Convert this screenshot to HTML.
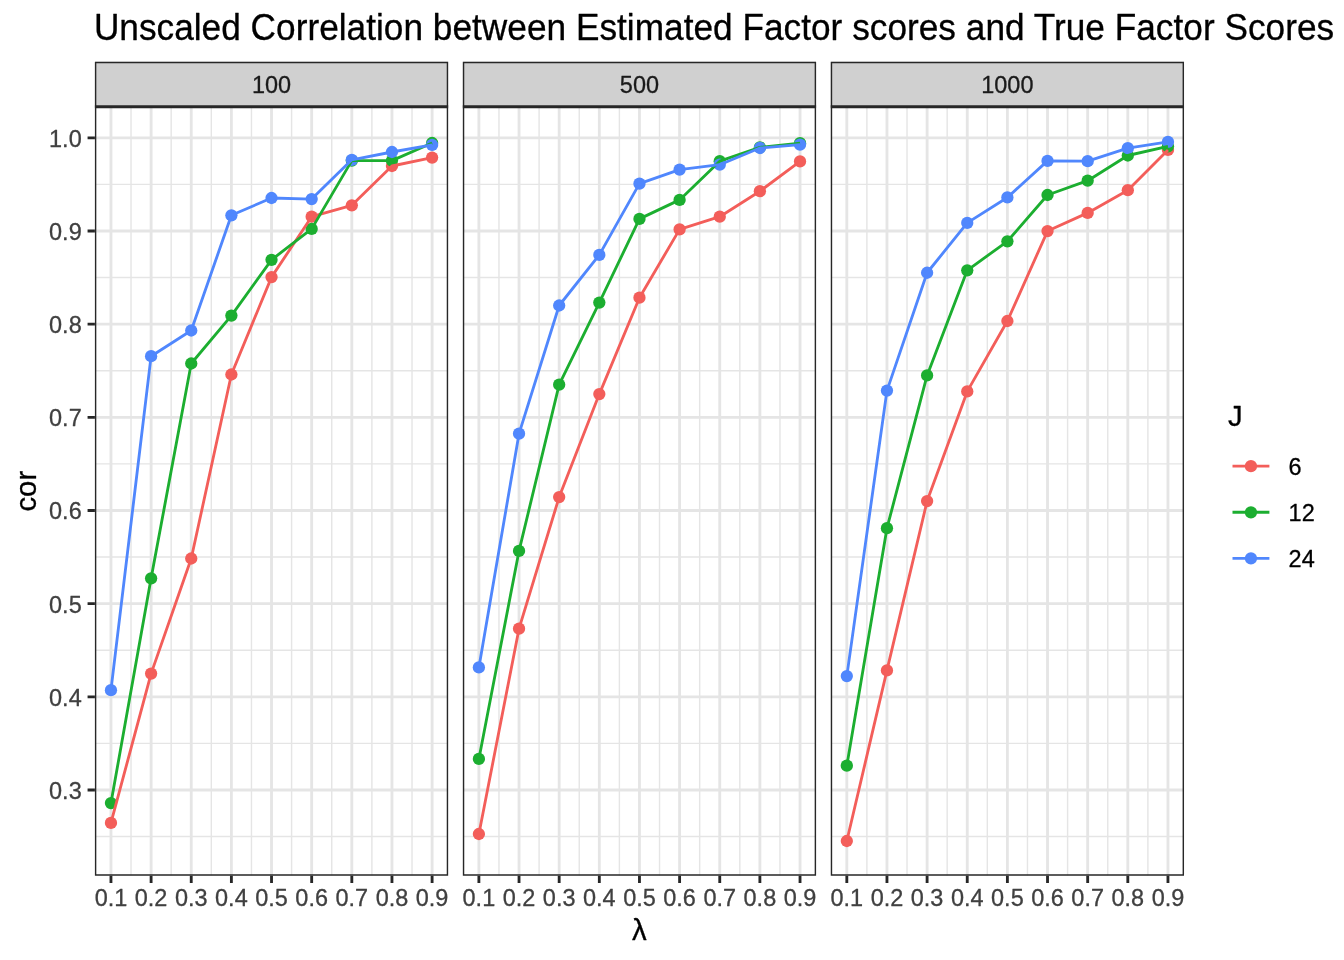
<!DOCTYPE html>
<html lang="en"><head><meta charset="utf-8"><title>Unscaled Correlation between Estimated Factor scores and True Factor Scores</title>
<style>html,body{margin:0;padding:0;background:#fff}svg{display:block}text{stroke-width:.3px;stroke-linejoin:round}.k{stroke:#000}.a{stroke:#404040}.s{stroke:#1A1A1A}</style></head>
<body>
<svg width="1344" height="960" viewBox="0 0 1344 960" font-family="Liberation Sans, Arial, Helvetica, sans-serif">
<rect width="1344" height="960" fill="#fff"/>
<defs>
<clipPath id="c0"><rect x="94.90" y="106.74" width="353.26" height="768.96"/></clipPath>
<clipPath id="s0"><rect x="94.90" y="61.80" width="353.26" height="44.94"/></clipPath>
<clipPath id="c1"><rect x="462.83" y="106.74" width="353.26" height="768.96"/></clipPath>
<clipPath id="s1"><rect x="462.83" y="61.80" width="353.26" height="44.94"/></clipPath>
<clipPath id="c2"><rect x="830.76" y="106.74" width="353.26" height="768.96"/></clipPath>
<clipPath id="s2"><rect x="830.76" y="61.80" width="353.26" height="44.94"/></clipPath>
</defs>
<text transform="translate(93.9 40) scale(1 1.03)" class="k" font-size="35.2" fill="#000" textLength="1240.2" lengthAdjust="spacing">Unscaled Correlation between Estimated Factor scores and True Factor Scores</text>
<g clip-path="url(#c0)">
<path d="M94.90 836.58H448.16M94.90 743.40H448.16M94.90 650.24H448.16M94.90 557.07H448.16M94.90 463.89H448.16M94.90 370.73H448.16M94.90 277.56H448.16M94.90 184.39H448.16M131.03 106.74V875.70M171.17 106.74V875.70M211.32 106.74V875.70M251.46 106.74V875.70M291.60 106.74V875.70M331.74 106.74V875.70M371.89 106.74V875.70M412.03 106.74V875.70" stroke="#E5E5E5" stroke-width="1.42" fill="none"/>
<path d="M94.90 789.99H448.16M94.90 696.82H448.16M94.90 603.65H448.16M94.90 510.48H448.16M94.90 417.31H448.16M94.90 324.14H448.16M94.90 230.97H448.16M94.90 137.80H448.16M110.96 106.74V875.70M151.10 106.74V875.70M191.24 106.74V875.70M231.39 106.74V875.70M271.53 106.74V875.70M311.67 106.74V875.70M351.82 106.74V875.70M391.96 106.74V875.70M432.10 106.74V875.70" stroke="#E5E5E5" stroke-width="2.84" fill="none"/>
<circle cx="110.96" cy="822.90" r="6.15" fill="#F35E5A"/>
<circle cx="151.10" cy="673.60" r="6.15" fill="#F35E5A"/>
<circle cx="191.24" cy="558.50" r="6.15" fill="#F35E5A"/>
<circle cx="231.39" cy="374.50" r="6.15" fill="#F35E5A"/>
<circle cx="271.53" cy="277.10" r="6.15" fill="#F35E5A"/>
<circle cx="311.67" cy="216.70" r="6.15" fill="#F35E5A"/>
<circle cx="351.82" cy="205.30" r="6.15" fill="#F35E5A"/>
<circle cx="391.96" cy="166.00" r="6.15" fill="#F35E5A"/>
<circle cx="432.10" cy="157.60" r="6.15" fill="#F35E5A"/>
<circle cx="110.96" cy="803.10" r="6.15" fill="#1CAE30"/>
<circle cx="151.10" cy="578.30" r="6.15" fill="#1CAE30"/>
<circle cx="191.24" cy="363.50" r="6.15" fill="#1CAE30"/>
<circle cx="231.39" cy="315.60" r="6.15" fill="#1CAE30"/>
<circle cx="271.53" cy="259.80" r="6.15" fill="#1CAE30"/>
<circle cx="311.67" cy="228.90" r="6.15" fill="#1CAE30"/>
<circle cx="351.82" cy="160.60" r="6.15" fill="#1CAE30"/>
<circle cx="391.96" cy="160.60" r="6.15" fill="#1CAE30"/>
<circle cx="432.10" cy="143.00" r="6.15" fill="#1CAE30"/>
<circle cx="110.96" cy="690.15" r="6.15" fill="#5087FD"/>
<circle cx="151.10" cy="356.20" r="6.15" fill="#5087FD"/>
<circle cx="191.24" cy="330.50" r="6.15" fill="#5087FD"/>
<circle cx="231.39" cy="215.30" r="6.15" fill="#5087FD"/>
<circle cx="271.53" cy="198.00" r="6.15" fill="#5087FD"/>
<circle cx="311.67" cy="199.10" r="6.15" fill="#5087FD"/>
<circle cx="351.82" cy="159.80" r="6.15" fill="#5087FD"/>
<circle cx="391.96" cy="152.00" r="6.15" fill="#5087FD"/>
<circle cx="432.10" cy="144.90" r="6.15" fill="#5087FD"/>
<polyline points="110.96,822.90 151.10,673.60 191.24,558.50 231.39,374.50 271.53,277.10 311.67,216.70 351.82,205.30 391.96,166.00 432.10,157.60" fill="none" stroke="#F35E5A" stroke-width="2.84" stroke-linejoin="round" stroke-linecap="butt"/>
<polyline points="110.96,803.10 151.10,578.30 191.24,363.50 231.39,315.60 271.53,259.80 311.67,228.90 351.82,160.60 391.96,160.60 432.10,143.00" fill="none" stroke="#1CAE30" stroke-width="2.84" stroke-linejoin="round" stroke-linecap="butt"/>
<polyline points="110.96,690.15 151.10,356.20 191.24,330.50 231.39,215.30 271.53,198.00 311.67,199.10 351.82,159.80 391.96,152.00 432.10,144.90" fill="none" stroke="#5087FD" stroke-width="2.84" stroke-linejoin="round" stroke-linecap="butt"/>
</g>
<rect x="94.90" y="61.80" width="353.26" height="44.94" fill="#D0D0D0"/>
<path d="M95.61 61.80V875.70M447.45 61.80V875.70M94.90 62.51H448.16M94.90 874.99H448.16" stroke="#272727" stroke-width="1.42" fill="none"/>
<path d="M94.90 106.74H448.16" stroke="#272727" stroke-width="2.84" fill="none"/>
<text x="271.53" y="92.7" class="s" font-size="23.47" fill="#1A1A1A" text-anchor="middle">100</text>
<path d="M110.96 875.70v7.33M151.10 875.70v7.33M191.24 875.70v7.33M231.39 875.70v7.33M271.53 875.70v7.33M311.67 875.70v7.33M351.82 875.70v7.33M391.96 875.70v7.33M432.10 875.70v7.33" stroke="#272727" stroke-width="2.84" fill="none"/>
<text x="110.96" y="906" class="a" font-size="23.47" fill="#404040" text-anchor="middle">0.1</text>
<text x="151.10" y="906" class="a" font-size="23.47" fill="#404040" text-anchor="middle">0.2</text>
<text x="191.24" y="906" class="a" font-size="23.47" fill="#404040" text-anchor="middle">0.3</text>
<text x="231.39" y="906" class="a" font-size="23.47" fill="#404040" text-anchor="middle">0.4</text>
<text x="271.53" y="906" class="a" font-size="23.47" fill="#404040" text-anchor="middle">0.5</text>
<text x="311.67" y="906" class="a" font-size="23.47" fill="#404040" text-anchor="middle">0.6</text>
<text x="351.82" y="906" class="a" font-size="23.47" fill="#404040" text-anchor="middle">0.7</text>
<text x="391.96" y="906" class="a" font-size="23.47" fill="#404040" text-anchor="middle">0.8</text>
<text x="432.10" y="906" class="a" font-size="23.47" fill="#404040" text-anchor="middle">0.9</text>
<g clip-path="url(#c1)">
<path d="M462.83 836.58H816.09M462.83 743.40H816.09M462.83 650.24H816.09M462.83 557.07H816.09M462.83 463.89H816.09M462.83 370.73H816.09M462.83 277.56H816.09M462.83 184.39H816.09M498.96 106.74V875.70M539.10 106.74V875.70M579.25 106.74V875.70M619.39 106.74V875.70M659.53 106.74V875.70M699.67 106.74V875.70M739.82 106.74V875.70M779.96 106.74V875.70" stroke="#E5E5E5" stroke-width="1.42" fill="none"/>
<path d="M462.83 789.99H816.09M462.83 696.82H816.09M462.83 603.65H816.09M462.83 510.48H816.09M462.83 417.31H816.09M462.83 324.14H816.09M462.83 230.97H816.09M462.83 137.80H816.09M478.89 106.74V875.70M519.03 106.74V875.70M559.17 106.74V875.70M599.32 106.74V875.70M639.46 106.74V875.70M679.60 106.74V875.70M719.75 106.74V875.70M759.89 106.74V875.70M800.03 106.74V875.70" stroke="#E5E5E5" stroke-width="2.84" fill="none"/>
<circle cx="478.89" cy="834.00" r="6.15" fill="#F35E5A"/>
<circle cx="519.03" cy="628.70" r="6.15" fill="#F35E5A"/>
<circle cx="559.17" cy="497.05" r="6.15" fill="#F35E5A"/>
<circle cx="599.32" cy="394.10" r="6.15" fill="#F35E5A"/>
<circle cx="639.46" cy="297.70" r="6.15" fill="#F35E5A"/>
<circle cx="679.60" cy="229.40" r="6.15" fill="#F35E5A"/>
<circle cx="719.75" cy="216.70" r="6.15" fill="#F35E5A"/>
<circle cx="759.89" cy="191.20" r="6.15" fill="#F35E5A"/>
<circle cx="800.03" cy="161.40" r="6.15" fill="#F35E5A"/>
<circle cx="478.89" cy="758.95" r="6.15" fill="#1CAE30"/>
<circle cx="519.03" cy="550.95" r="6.15" fill="#1CAE30"/>
<circle cx="559.17" cy="384.65" r="6.15" fill="#1CAE30"/>
<circle cx="599.32" cy="302.60" r="6.15" fill="#1CAE30"/>
<circle cx="639.46" cy="218.90" r="6.15" fill="#1CAE30"/>
<circle cx="679.60" cy="199.90" r="6.15" fill="#1CAE30"/>
<circle cx="719.75" cy="161.20" r="6.15" fill="#1CAE30"/>
<circle cx="759.89" cy="147.40" r="6.15" fill="#1CAE30"/>
<circle cx="800.03" cy="143.20" r="6.15" fill="#1CAE30"/>
<circle cx="478.89" cy="667.40" r="6.15" fill="#5087FD"/>
<circle cx="519.03" cy="433.70" r="6.15" fill="#5087FD"/>
<circle cx="559.17" cy="305.50" r="6.15" fill="#5087FD"/>
<circle cx="599.32" cy="254.90" r="6.15" fill="#5087FD"/>
<circle cx="639.46" cy="183.65" r="6.15" fill="#5087FD"/>
<circle cx="679.60" cy="169.60" r="6.15" fill="#5087FD"/>
<circle cx="719.75" cy="164.70" r="6.15" fill="#5087FD"/>
<circle cx="759.89" cy="148.00" r="6.15" fill="#5087FD"/>
<circle cx="800.03" cy="144.60" r="6.15" fill="#5087FD"/>
<polyline points="478.89,834.00 519.03,628.70 559.17,497.05 599.32,394.10 639.46,297.70 679.60,229.40 719.75,216.70 759.89,191.20 800.03,161.40" fill="none" stroke="#F35E5A" stroke-width="2.84" stroke-linejoin="round" stroke-linecap="butt"/>
<polyline points="478.89,758.95 519.03,550.95 559.17,384.65 599.32,302.60 639.46,218.90 679.60,199.90 719.75,161.20 759.89,147.40 800.03,143.20" fill="none" stroke="#1CAE30" stroke-width="2.84" stroke-linejoin="round" stroke-linecap="butt"/>
<polyline points="478.89,667.40 519.03,433.70 559.17,305.50 599.32,254.90 639.46,183.65 679.60,169.60 719.75,164.70 759.89,148.00 800.03,144.60" fill="none" stroke="#5087FD" stroke-width="2.84" stroke-linejoin="round" stroke-linecap="butt"/>
</g>
<rect x="462.83" y="61.80" width="353.26" height="44.94" fill="#D0D0D0"/>
<path d="M463.54 61.80V875.70M815.38 61.80V875.70M462.83 62.51H816.09M462.83 874.99H816.09" stroke="#272727" stroke-width="1.42" fill="none"/>
<path d="M462.83 106.74H816.09" stroke="#272727" stroke-width="2.84" fill="none"/>
<text x="639.46" y="92.7" class="s" font-size="23.47" fill="#1A1A1A" text-anchor="middle">500</text>
<path d="M478.89 875.70v7.33M519.03 875.70v7.33M559.17 875.70v7.33M599.32 875.70v7.33M639.46 875.70v7.33M679.60 875.70v7.33M719.75 875.70v7.33M759.89 875.70v7.33M800.03 875.70v7.33" stroke="#272727" stroke-width="2.84" fill="none"/>
<text x="478.89" y="906" class="a" font-size="23.47" fill="#404040" text-anchor="middle">0.1</text>
<text x="519.03" y="906" class="a" font-size="23.47" fill="#404040" text-anchor="middle">0.2</text>
<text x="559.17" y="906" class="a" font-size="23.47" fill="#404040" text-anchor="middle">0.3</text>
<text x="599.32" y="906" class="a" font-size="23.47" fill="#404040" text-anchor="middle">0.4</text>
<text x="639.46" y="906" class="a" font-size="23.47" fill="#404040" text-anchor="middle">0.5</text>
<text x="679.60" y="906" class="a" font-size="23.47" fill="#404040" text-anchor="middle">0.6</text>
<text x="719.75" y="906" class="a" font-size="23.47" fill="#404040" text-anchor="middle">0.7</text>
<text x="759.89" y="906" class="a" font-size="23.47" fill="#404040" text-anchor="middle">0.8</text>
<text x="800.03" y="906" class="a" font-size="23.47" fill="#404040" text-anchor="middle">0.9</text>
<g clip-path="url(#c2)">
<path d="M830.76 836.58H1184.02M830.76 743.40H1184.02M830.76 650.24H1184.02M830.76 557.07H1184.02M830.76 463.89H1184.02M830.76 370.73H1184.02M830.76 277.56H1184.02M830.76 184.39H1184.02M866.89 106.74V875.70M907.03 106.74V875.70M947.18 106.74V875.70M987.32 106.74V875.70M1027.46 106.74V875.70M1067.60 106.74V875.70M1107.75 106.74V875.70M1147.89 106.74V875.70" stroke="#E5E5E5" stroke-width="1.42" fill="none"/>
<path d="M830.76 789.99H1184.02M830.76 696.82H1184.02M830.76 603.65H1184.02M830.76 510.48H1184.02M830.76 417.31H1184.02M830.76 324.14H1184.02M830.76 230.97H1184.02M830.76 137.80H1184.02M846.82 106.74V875.70M886.96 106.74V875.70M927.10 106.74V875.70M967.25 106.74V875.70M1007.39 106.74V875.70M1047.53 106.74V875.70M1087.68 106.74V875.70M1127.82 106.74V875.70M1167.96 106.74V875.70" stroke="#E5E5E5" stroke-width="2.84" fill="none"/>
<circle cx="846.82" cy="841.00" r="6.15" fill="#F35E5A"/>
<circle cx="886.96" cy="670.40" r="6.15" fill="#F35E5A"/>
<circle cx="927.10" cy="501.10" r="6.15" fill="#F35E5A"/>
<circle cx="967.25" cy="391.40" r="6.15" fill="#F35E5A"/>
<circle cx="1007.39" cy="321.00" r="6.15" fill="#F35E5A"/>
<circle cx="1047.53" cy="231.05" r="6.15" fill="#F35E5A"/>
<circle cx="1087.68" cy="212.90" r="6.15" fill="#F35E5A"/>
<circle cx="1127.82" cy="190.15" r="6.15" fill="#F35E5A"/>
<circle cx="1167.96" cy="149.90" r="6.15" fill="#F35E5A"/>
<circle cx="846.82" cy="765.70" r="6.15" fill="#1CAE30"/>
<circle cx="886.96" cy="528.20" r="6.15" fill="#1CAE30"/>
<circle cx="927.10" cy="375.40" r="6.15" fill="#1CAE30"/>
<circle cx="967.25" cy="270.30" r="6.15" fill="#1CAE30"/>
<circle cx="1007.39" cy="241.30" r="6.15" fill="#1CAE30"/>
<circle cx="1047.53" cy="195.00" r="6.15" fill="#1CAE30"/>
<circle cx="1087.68" cy="180.70" r="6.15" fill="#1CAE30"/>
<circle cx="1127.82" cy="155.50" r="6.15" fill="#1CAE30"/>
<circle cx="1167.96" cy="146.30" r="6.15" fill="#1CAE30"/>
<circle cx="846.82" cy="676.10" r="6.15" fill="#5087FD"/>
<circle cx="886.96" cy="390.60" r="6.15" fill="#5087FD"/>
<circle cx="927.10" cy="272.75" r="6.15" fill="#5087FD"/>
<circle cx="967.25" cy="222.90" r="6.15" fill="#5087FD"/>
<circle cx="1007.39" cy="197.45" r="6.15" fill="#5087FD"/>
<circle cx="1047.53" cy="160.90" r="6.15" fill="#5087FD"/>
<circle cx="1087.68" cy="161.20" r="6.15" fill="#5087FD"/>
<circle cx="1127.82" cy="148.20" r="6.15" fill="#5087FD"/>
<circle cx="1167.96" cy="141.90" r="6.15" fill="#5087FD"/>
<polyline points="846.82,841.00 886.96,670.40 927.10,501.10 967.25,391.40 1007.39,321.00 1047.53,231.05 1087.68,212.90 1127.82,190.15 1167.96,149.90" fill="none" stroke="#F35E5A" stroke-width="2.84" stroke-linejoin="round" stroke-linecap="butt"/>
<polyline points="846.82,765.70 886.96,528.20 927.10,375.40 967.25,270.30 1007.39,241.30 1047.53,195.00 1087.68,180.70 1127.82,155.50 1167.96,146.30" fill="none" stroke="#1CAE30" stroke-width="2.84" stroke-linejoin="round" stroke-linecap="butt"/>
<polyline points="846.82,676.10 886.96,390.60 927.10,272.75 967.25,222.90 1007.39,197.45 1047.53,160.90 1087.68,161.20 1127.82,148.20 1167.96,141.90" fill="none" stroke="#5087FD" stroke-width="2.84" stroke-linejoin="round" stroke-linecap="butt"/>
</g>
<rect x="830.76" y="61.80" width="353.26" height="44.94" fill="#D0D0D0"/>
<path d="M831.47 61.80V875.70M1183.31 61.80V875.70M830.76 62.51H1184.02M830.76 874.99H1184.02" stroke="#272727" stroke-width="1.42" fill="none"/>
<path d="M830.76 106.74H1184.02" stroke="#272727" stroke-width="2.84" fill="none"/>
<text x="1007.39" y="92.7" class="s" font-size="23.47" fill="#1A1A1A" text-anchor="middle">1000</text>
<path d="M846.82 875.70v7.33M886.96 875.70v7.33M927.10 875.70v7.33M967.25 875.70v7.33M1007.39 875.70v7.33M1047.53 875.70v7.33M1087.68 875.70v7.33M1127.82 875.70v7.33M1167.96 875.70v7.33" stroke="#272727" stroke-width="2.84" fill="none"/>
<text x="846.82" y="906" class="a" font-size="23.47" fill="#404040" text-anchor="middle">0.1</text>
<text x="886.96" y="906" class="a" font-size="23.47" fill="#404040" text-anchor="middle">0.2</text>
<text x="927.10" y="906" class="a" font-size="23.47" fill="#404040" text-anchor="middle">0.3</text>
<text x="967.25" y="906" class="a" font-size="23.47" fill="#404040" text-anchor="middle">0.4</text>
<text x="1007.39" y="906" class="a" font-size="23.47" fill="#404040" text-anchor="middle">0.5</text>
<text x="1047.53" y="906" class="a" font-size="23.47" fill="#404040" text-anchor="middle">0.6</text>
<text x="1087.68" y="906" class="a" font-size="23.47" fill="#404040" text-anchor="middle">0.7</text>
<text x="1127.82" y="906" class="a" font-size="23.47" fill="#404040" text-anchor="middle">0.8</text>
<text x="1167.96" y="906" class="a" font-size="23.47" fill="#404040" text-anchor="middle">0.9</text>
<path d="M94.90 789.99h-7.33M94.90 696.82h-7.33M94.90 603.65h-7.33M94.90 510.48h-7.33M94.90 417.31h-7.33M94.90 324.14h-7.33M94.90 230.97h-7.33M94.90 137.80h-7.33" stroke="#272727" stroke-width="2.84" fill="none"/>
<text x="81.7" y="799" class="a" font-size="23.47" fill="#404040" text-anchor="end">0.3</text>
<text x="81.7" y="706" class="a" font-size="23.47" fill="#404040" text-anchor="end">0.4</text>
<text x="81.7" y="613" class="a" font-size="23.47" fill="#404040" text-anchor="end">0.5</text>
<text x="81.7" y="519" class="a" font-size="23.47" fill="#404040" text-anchor="end">0.6</text>
<text x="81.7" y="426" class="a" font-size="23.47" fill="#404040" text-anchor="end">0.7</text>
<text x="81.7" y="333" class="a" font-size="23.47" fill="#404040" text-anchor="end">0.8</text>
<text x="81.7" y="240" class="a" font-size="23.47" fill="#404040" text-anchor="end">0.9</text>
<text x="81.7" y="147" class="a" font-size="23.47" fill="#404040" text-anchor="end">1.0</text>
<text x="639.4" y="939.8" class="k" font-size="29.33" fill="#000" text-anchor="middle">λ</text>
<text transform="translate(35.9 491.2) rotate(-90)" class="k" font-size="29.33" fill="#000" text-anchor="middle">cor</text>
<text x="1227.9" y="425.9" class="k" font-size="29.33" fill="#000">J</text>
<path d="M1232.5 466.20H1269.4" stroke="#F35E5A" stroke-width="2.84" fill="none"/>
<circle cx="1250.95" cy="466.20" r="6.15" fill="#F35E5A"/>
<text x="1288.6" y="475" class="k" font-size="23.47" fill="#000">6</text>
<path d="M1232.5 512.28H1269.4" stroke="#1CAE30" stroke-width="2.84" fill="none"/>
<circle cx="1250.95" cy="512.28" r="6.15" fill="#1CAE30"/>
<text x="1288.6" y="521" class="k" font-size="23.47" fill="#000">12</text>
<path d="M1232.5 558.36H1269.4" stroke="#5087FD" stroke-width="2.84" fill="none"/>
<circle cx="1250.95" cy="558.36" r="6.15" fill="#5087FD"/>
<text x="1288.6" y="567" class="k" font-size="23.47" fill="#000">24</text>
</svg>
</body></html>
